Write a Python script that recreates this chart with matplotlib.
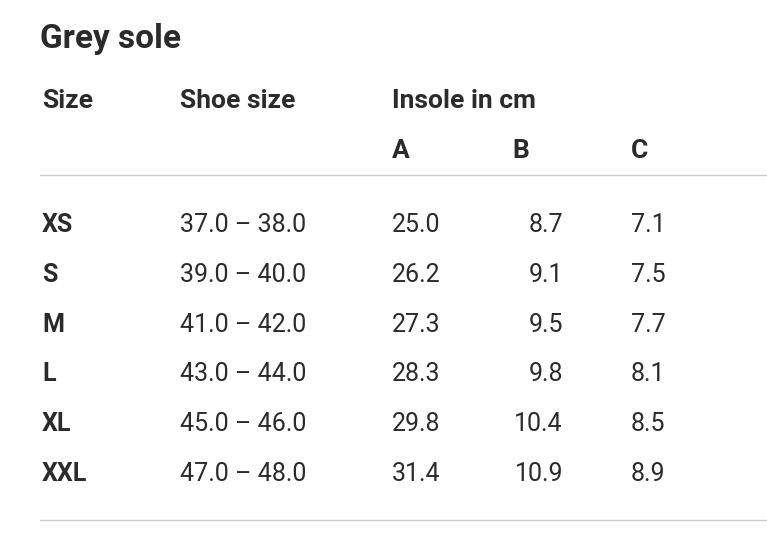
import matplotlib.pyplot as plt

sizes = ["XS", "S", "M", "L", "XL", "XXL"]
shoe = ["37.0 – 38.0", "39.0 – 40.0", "41.0 – 42.0", "43.0 – 44.0", "45.0 – 46.0", "47.0 – 48.0"]
col_a = ["25.0", "26.2", "27.3", "28.3", "29.8", "31.4"]
col_b = ["8.7", "9.1", "9.5", "9.8", "10.4", "10.9"]
col_c = ["7.1", "7.5", "7.7", "8.1", "8.5", "8.9"]

W, H = 767, 541
fig = plt.figure(figsize=(W / 100, H / 100), dpi=100)
plt.rcParams['font.family'] = ['Roboto', 'DejaVu Sans']
dark = "#2b2b2b"


def txt(x, y, s, size, bold=False, ha="left"):
    fig.text(x / W, 1 - y / H, s, fontsize=size, color=dark, ha=ha, va="center",
             fontweight="bold" if bold else "normal")


txt(40, 39, "Grey sole", 24, True)
txt(42, 101, "Size", 19, True)
txt(180, 101, "Shoe size", 19, True)
txt(392, 101, "Insole in cm", 19, True)
txt(392, 151, "A", 19, True)
txt(512, 151, "B", 19, True)
txt(631, 151, "C", 19, True)

for y in (175, 520):
    fig.add_artist(plt.Line2D([40 / W, 1], [1 - y / H] * 2, color="#cccccc", lw=1))

for i in range(len(sizes)):
    y = 225 + i * 49.8
    txt(42, y, sizes[i], 18, True)
    txt(180, y, shoe[i], 18)
    txt(392, y, col_a[i], 18)
    txt(563, y, col_b[i], 18, ha="right")
    txt(631, y, col_c[i], 18)

fig.savefig("out.png", dpi=100, facecolor="white")
